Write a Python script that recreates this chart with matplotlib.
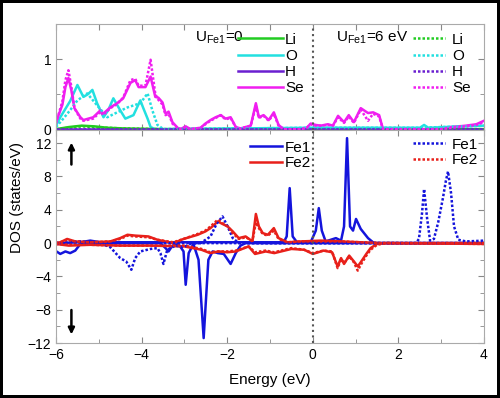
import matplotlib
matplotlib.use('Agg')
import matplotlib.pyplot as plt
from matplotlib.ticker import MultipleLocator

plt.rcParams['font.family'] = ['Liberation Sans', 'DejaVu Sans']
plt.rcParams['font.size'] = 10

# ---- top panel: ligand DOS (U=0 solid, U=6 dotted) ----
se_e = [-6.0, -5.85, -5.78, -5.71, -5.64, -5.57, -5.43, -5.36, -5.13, -4.96, -4.90, -4.73, -4.57, -4.43, -4.26,
        -4.15, -4.07, -3.91, -3.79, -3.68, -3.61, -3.51, -3.44, -3.37, -3.28, -3.16, -3.09, -2.97, -2.86, -2.62,
        -2.51, -2.39, -2.27, -2.15, -2.04, -1.92, -1.80, -1.69, -1.45, -1.33, -1.26, -1.15, -1.03, -0.91, -0.80,
        -0.68, -0.28, -0.14, -0.05, 0.07, 0.19, 0.35, 0.47, 0.59, 0.73, 0.84, 0.96, 1.12, 1.29, 1.41, 1.55, 1.64,
        3.0, 3.23, 3.58, 3.82, 4.0]
se_u0 = [0.10, 0.35, 0.60, 0.73, 0.55, 0.30, 0.17, 0.13, 0.17, 0.27, 0.22, 0.31, 0.37, 0.44, 0.66,
         0.70, 0.60, 0.60, 0.75, 0.46, 0.45, 0.38, 0.22, 0.25, 0.10, 0.02, 0.0, 0.04, 0.0, 0.02,
         0.08, 0.13, 0.17, 0.20, 0.15, 0.17, 0.03, 0.01, 0.05, 0.37, 0.17, 0.20, 0.13, 0.24, 0.06,
         0.0, 0.0, 0.02, 0.08, 0.06, 0.05, 0.07, 0.05, 0.19, 0.10, 0.20, 0.10, 0.30, 0.23, 0.24, 0.20, 0.0,
         0.0, 0.03, 0.05, 0.07, 0.12]
se_u6 = [0.08, 0.40, 0.70, 0.84, 0.60, 0.30, 0.15, 0.12, 0.15, 0.25, 0.20, 0.30, 0.36, 0.45, 0.70,
         0.72, 0.62, 0.62, 0.99, 0.50, 0.42, 0.35, 0.20, 0.22, 0.08, 0.02, 0.0, 0.03, 0.0, 0.02,
         0.07, 0.12, 0.16, 0.20, 0.14, 0.16, 0.03, 0.01, 0.05, 0.33, 0.16, 0.19, 0.12, 0.22, 0.05,
         0.0, 0.0, 0.02, 0.07, 0.05, 0.05, 0.06, 0.05, 0.17, 0.09, 0.18, 0.09, 0.28, 0.12, 0.22, 0.18, 0.0,
         0.0, 0.02, 0.04, 0.06, 0.10]

o_e = [-6.0, -5.90, -5.67, -5.50, -5.36, -5.25, -5.15, -5.04, -4.89, -4.78, -4.66, -4.50, -4.38, -4.19,
       -4.03, -3.96, -3.86, -3.79, -3.68, 0.0, 2.5, 2.6, 2.7, 3.5, 4.0]
o_u0 = [0.05, 0.17, 0.40, 0.63, 0.46, 0.50, 0.56, 0.37, 0.17, 0.27, 0.44, 0.27, 0.15, 0.20,
        0.41, 0.30, 0.15, 0.03, 0.0, 0.02, 0.02, 0.06, 0.02, 0.04, 0.05]
o6_e = [-6.0, -5.83, -5.67, -5.50, -5.27, -5.04, -4.80, -4.57, -4.33, -4.03, -3.86, -3.75, -3.63, -3.49,
        0.0, 2.5, 3.5, 4.0]
o_u6 = [0.03, 0.15, 0.27, 0.41, 0.51, 0.34, 0.17, 0.24, 0.31, 0.37, 0.51, 0.27, 0.06, 0.0,
        0.02, 0.02, 0.04, 0.05]

li_e = [-6.0, -5.7, -5.4, -5.1, -4.8, -4.4, -3.5, 4.0]
li_u0 = [0.0, 0.03, 0.05, 0.04, 0.02, 0.01, 0.0, 0.0]
li_u6 = [0.0, 0.02, 0.04, 0.03, 0.02, 0.01, 0.0, 0.0]

h_e = [-6.0, 4.0]
h_u0 = [0.0, 0.0]
h_u6 = [0.0, 0.0]

# ---- bottom panel: Fe DOS, spin up (>0) and spin down (<0) ----
fe1_up_e = [-6.0, -5.43, -5.20, -4.96, -4.03, -0.68, -0.61, -0.54, -0.47, -0.37, -0.05, 0.07, 0.14, 0.21,
            0.30, 0.54, 0.66, 0.73, 0.80, 0.87, 0.94, 1.01, 1.12, 1.29, 1.43, 4.0]
fe1_up_u0 = [0.0, 0.1, 0.3, 0.1, 0.1, 0.1, 0.8, 6.6, 0.8, 0.1, 0.1, 1.5, 4.2, 1.5,
             0.2, 0.6, 0.3, 2.0, 12.6, 2.0, 1.5, 2.9, 1.7, 0.6, 0.0, 0.0]
fe1_dn_e = [-6.0, -5.90, -5.78, -5.67, -5.55, -5.43, -4.5, -3.56, -3.44, -3.37, -3.28, -3.14, -3.02, -2.97,
            -2.90, -2.79, -2.67, -2.55, -2.44, -2.34, -2.22, -2.08, -1.92, -1.80, -1.69, -1.57, 4.0]
fe1_dn_u0 = [-0.96, -1.3, -1.0, -1.2, -0.9, -0.1, 0.0, 0.0, -0.6, -1.0, -0.3, -0.1, -1.0, -5.0,
             -1.2, -0.1, -2.0, -11.4, -2.0, -1.0, -1.2, -1.3, -2.5, -1.2, -0.3, 0.0, 0.0]

fe1_up6_e = [-6.0, -5.43, -4.96, -2.62, -2.39, -2.25, -2.11, -1.99, -1.87, -1.73, 2.41, 2.48, 2.55, 2.60,
             2.67, 2.74, 2.83, 2.93, 3.04, 3.11, 3.16, 3.23, 3.30, 3.40, 3.58, 4.0]
fe1_up_u6 = [0.0, 0.2, 0.0, 0.0, 0.8, 2.3, 3.2, 2.0, 0.6, 0.0, 0.0, 0.5, 3.5, 6.5,
             3.0, 0.3, 0.5, 2.5, 5.4, 7.5, 8.6, 6.0, 2.0, 0.4, 0.2, 0.3]
fe1_dn6_e = [-6.0, -5.74, -4.96, -4.73, -4.50, -4.36, -4.24, -4.15, -4.03, -3.79, -3.63, -3.56, -3.49,
             -3.40, -3.21, -3.02, -2.86, -2.62, 4.0]
fe1_dn_u6 = [-0.1, 0.0, 0.0, -0.5, -1.8, -2.2, -3.2, -1.8, -1.0, -0.7, -0.6, -1.2, -2.5,
             -0.8, -0.3, -0.5, -0.1, 0.0, 0.0]

fe2_up_e = [-6.0, -5.90, -5.74, -5.55, -5.20, -4.73, -4.50, -4.33, -4.15, -3.84, -3.63, -3.26, -3.02,
            -2.69, -2.51, -2.39, -2.22, -2.11, -1.99, -1.87, -1.73, -1.57, -1.41, -1.33, -1.26, -1.17,
            -1.05, -0.91, -0.80, -0.59, -0.28, 0.19, 0.66, 1.12, 1.59, 4.0]
fe2_up_u0 = [0.0, 0.1, 0.5, 0.2, 0.1, 0.2, 0.6, 1.0, 0.9, 0.8, 0.4, 0.0, 0.5,
             1.0, 1.4, 1.8, 2.6, 2.3, 2.0, 1.4, 0.6, 0.8, 0.2, 3.5, 2.0, 1.2,
             1.0, 1.8, 0.6, 0.1, 0.2, 0.3, 0.2, 0.1, 0.0, 0.0]
fe2_up_u6 = [0.0, 0.1, 0.4, 0.2, 0.1, 0.2, 0.5, 0.9, 0.8, 0.7, 0.4, 0.1, 0.5,
             1.1, 1.5, 2.0, 2.8, 2.4, 2.0, 1.2, 0.5, 0.7, 0.3, 2.5, 1.8, 1.1,
             0.9, 1.5, 0.5, 0.1, 0.2, 0.2, 0.2, 0.1, 0.0, 0.0]
fe2_dn_e = [-6.0, -5.7, -5.2, -4.5, -3.8, -3.0, -2.6, -2.4, -2.2, -2.0, -1.8, -1.5, -1.35, -1.1, -0.9,
            -0.5, -0.2, 0.0, 0.25, 0.45, 0.58, 0.66, 0.73, 0.85, 0.96, 1.05, 1.12, 1.25, 1.35, 1.5, 1.7, 4.0]
fe2_dn_u0 = [-0.1, -0.3, -0.2, -0.3, -0.3, -0.4, -0.8, -1.2, -1.0, -1.1, -1.0, -0.4, -1.3, -1.0, -1.2,
             -0.7, -0.8, -1.3, -0.9, -1.1, -2.8, -1.8, -2.5, -1.5, -2.2, -2.8, -2.3, -1.3, -0.6, -0.1, 0.0, -0.1]
fe2_dn_u6 = [-0.1, -0.2, -0.2, -0.3, -0.3, -0.3, -0.7, -1.1, -1.0, -1.0, -0.9, -0.4, -1.1, -0.9, -1.1,
             -0.6, -0.8, -1.2, -0.9, -1.0, -3.0, -1.9, -2.4, -1.6, -2.3, -3.3, -2.6, -1.5, -0.8, -0.2, 0.0, -0.1]

c_li, c_o, c_h, c_se = '#22cc22', '#22e0e0', '#6a1fd0', '#f01ef0'
c_fe1, c_fe2 = '#1414dc', '#e8201a'
lw = 1.8
dot = (0, (1, 0.8))

fig = plt.figure(figsize=(5.0, 3.98), dpi=100)
fig.patch.set_edgecolor('black')
fig.patch.set_linewidth(3)
ax1 = fig.add_axes([0.112, 0.673, 0.856, 0.2667])
ax2 = fig.add_axes([0.112, 0.138, 0.856, 0.535])

# top panel
for e, y, c, name in [(li_e, li_u0, c_li, 'Li'), (o_e, o_u0, c_o, 'O'), (h_e, h_u0, c_h, 'H'), (se_e, se_u0, c_se, 'Se')]:
    ax1.plot(e, y, color=c, lw=lw, label=name)
h_solid, l_solid = ax1.get_legend_handles_labels()
dotted = []
for e, y, c, name in [(li_e, li_u6, c_li, 'Li'), (o6_e, o_u6, c_o, 'O'), (h_e, h_u6, c_h, 'H'), (se_e, se_u6, c_se, 'Se')]:
    dotted.append(ax1.plot(e, y, color=c, lw=lw, ls=dot, label=name)[0])

leg1 = ax1.legend(h_solid, l_solid, loc='upper left', bbox_to_anchor=(0.401, 1.02), frameon=False,
                  handlelength=2.95, handletextpad=0.1, labelspacing=0.15, borderaxespad=0.3, fontsize=11)
ax1.add_artist(leg1)
ax1.legend(dotted, l_solid, loc='upper left', bbox_to_anchor=(0.809, 1.02), frameon=False,
           handlelength=2.1, handletextpad=0.45, labelspacing=0.15, borderaxespad=0.3, fontsize=11)
ax1.text(0.325, 0.87, 'U$_{\\mathregular{Fe1}}$=0', transform=ax1.transAxes, fontsize=11, va='center')
ax1.text(0.655, 0.87, 'U$_{\\mathregular{Fe1}}$=6 eV', transform=ax1.transAxes, fontsize=11, va='center')

ax1.set_xlim(-6, 4)
ax1.set_ylim(-0.014, 1.5)
ax1.set_yticks([0, 1])
ax1.yaxis.set_minor_locator(MultipleLocator(0.5))
ax1.xaxis.set_major_locator(MultipleLocator(1))
ax1.tick_params(labelbottom=False)
ax1.axvline(0, color='#555555', ls=':', lw=1.5)

# bottom panel
ax2.plot(fe1_up_e, fe1_up_u0, color=c_fe1, lw=lw, label='Fe1')
ax2.plot(fe1_dn_e, fe1_dn_u0, color=c_fe1, lw=lw)
ax2.plot(fe2_up_e, fe2_up_u0, color=c_fe2, lw=lw, label='Fe2')
ax2.plot(fe2_dn_e, fe2_dn_u0, color=c_fe2, lw=lw)
h2, l2 = ax2.get_legend_handles_labels()
d1 = ax2.plot(fe1_up6_e, fe1_up_u6, color=c_fe1, lw=lw, ls=dot, label='Fe1')[0]
ax2.plot(fe1_dn6_e, fe1_dn_u6, color=c_fe1, lw=lw, ls=dot)
d2 = ax2.plot(fe2_up_e, fe2_up_u6, color=c_fe2, lw=lw, ls=dot, label='Fe2')[0]
ax2.plot(fe2_dn_e, fe2_dn_u6, color=c_fe2, lw=lw, ls=dot)

leg2 = ax2.legend(h2, l2, loc='upper left', bbox_to_anchor=(0.4285, 1.0), frameon=False,
                  handlelength=2.1, handletextpad=0.15, labelspacing=0.1, borderaxespad=0.3, fontsize=11)
ax2.add_artist(leg2)
ax2.legend([d1, d2], ['Fe1', 'Fe2'], loc='upper left', bbox_to_anchor=(0.809, 1.015), frameon=False,
           handlelength=2.1, handletextpad=0.45, labelspacing=0.1, borderaxespad=0.3, fontsize=11)

ax2.annotate('', xy=(-5.64, 12.4), xytext=(-5.64, 9.1),
             arrowprops=dict(arrowstyle='-|>', color='black', lw=1.8, mutation_scale=9))
ax2.annotate('', xy=(-5.64, -11.3), xytext=(-5.64, -7.7),
             arrowprops=dict(arrowstyle='-|>', color='black', lw=1.8, mutation_scale=9))

ax2.set_xlim(-6, 4)
ax2.set_ylim(-12, 13.56)
ax2.set_yticks([-12, -8, -4, 0, 4, 8, 12])
ax2.yaxis.set_minor_locator(MultipleLocator(2))
ax2.set_xticks([-6, -4, -2, 0, 2, 4])
ax2.xaxis.set_minor_locator(MultipleLocator(1))
ax2.axvline(0, color='#555555', ls=':', lw=1.5)
ax2.set_xlabel('Energy (eV)', fontsize=11, labelpad=8)

for ax in (ax1, ax2):
    for s in ax.spines.values():
        s.set_color('#aaaaaa')
    ax.tick_params(which='both', direction='in', top=True, right=True, color='#888888', labelsize=10)
    ax.tick_params(which='major', length=4)
    ax.tick_params(which='minor', length=3)

fig.text(0.035, 0.505, 'DOS (states/eV)', rotation=90, va='center', ha='center', fontsize=11)

fig.savefig('out.png', dpi=100)
